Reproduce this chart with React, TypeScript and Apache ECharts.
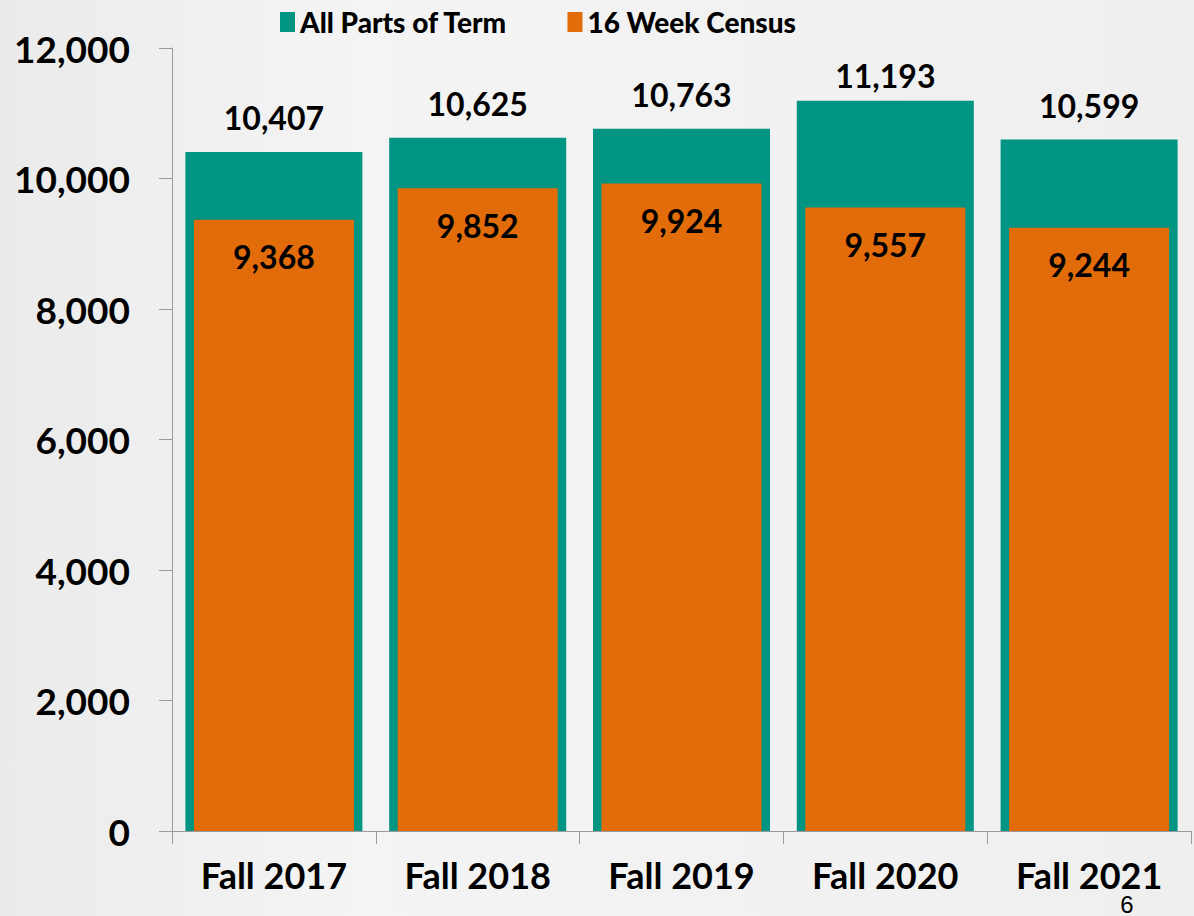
import React, { useEffect, useRef } from "react";
import * as echarts from "echarts";

const categories = ["Fall 2017", "Fall 2018", "Fall 2019", "Fall 2020", "Fall 2021"];
const allPartsOfTerm = [10407, 10625, 10763, 11193, 10599];
const sixteenWeekCensus = [9368, 9852, 9924, 9557, 9244];
const yTicks = { min: 0, max: 12000, interval: 2000 };

const TEAL = "#009483";
const ORANGE = "#E36C0A";
const FONT = "Lato";

const fmt = (v: number) => v.toLocaleString("en-US");

export default function App() {
  const ref = useRef<HTMLDivElement>(null);
  useEffect(() => {
    if (!ref.current) return;
    const chart = echarts.init(ref.current, undefined, { renderer: "svg" });
    chart.setOption({
      animation: false,
      backgroundColor: {
        type: "linear",
        x: 0, y: 0, x2: 1, y2: 0,
        colorStops: [
          { offset: 0, color: "#ebebeb" },
          { offset: 0.3, color: "#f4f4f4" },
          { offset: 1, color: "#efefef" },
        ],
      },
      textStyle: { fontFamily: FONT },
      legend: {
        top: 3,
        left: 275,
        itemWidth: 15,
        itemHeight: 20,
        itemGap: 60,
        icon: "rect",
        textStyle: { fontFamily: FONT, fontWeight: 900, fontSize: 28, color: "#000" },
        data: ["All Parts of Term", "16 Week Census"],
      },
      grid: { left: 172, right: 3, top: 48, bottom: 85, containLabel: false },
      xAxis: [
        {
          type: "category",
          data: categories,
          axisLine: { show: true, lineStyle: { color: "#9a9a9a", width: 1 } },
          axisTick: { show: true, length: 13, lineStyle: { color: "#9a9a9a" } },
          axisLabel: {
            fontFamily: FONT,
            fontWeight: "bold",
            fontSize: 36,
            lineHeight: 28,
            color: "#000",
            margin: 30,
          },
        },
        { type: "category", data: categories, show: false },
      ],
      yAxis: {
        type: "value",
        min: yTicks.min,
        max: yTicks.max,
        interval: yTicks.interval,
        splitLine: { show: false },
        axisLine: { show: true, lineStyle: { color: "#9a9a9a", width: 1 } },
        axisTick: { show: true, length: 13, lineStyle: { color: "#9a9a9a" } },
        axisLabel: {
          fontFamily: FONT,
          fontWeight: "bold",
          fontSize: 37,
          color: "#000",
          margin: 42,
          formatter: (v: number) => fmt(v),
        },
      },
      series: [
        {
          name: "All Parts of Term",
          type: "bar",
          xAxisIndex: 0,
          barWidth: 177,
          itemStyle: { color: TEAL },
          label: {
            show: true,
            position: "top",
            distance: 18,
            fontFamily: FONT,
            fontWeight: "bold",
            fontSize: 32,
            color: "#000",
            formatter: (p: any) => fmt(p.value),
          },
          data: allPartsOfTerm.map((v, i) =>
            i === 3 ? { value: v, label: { distance: 9 } } : v
          ),
        },
        {
          name: "16 Week Census",
          type: "bar",
          xAxisIndex: 1,
          barWidth: 160,
          z: 3,
          itemStyle: { color: ORANGE },
          label: {
            show: true,
            position: "insideTop",
            distance: 21,
            fontFamily: FONT,
            fontWeight: "bold",
            fontSize: 32,
            color: "#000",
            formatter: (p: any) => fmt(p.value),
          },
          data: sixteenWeekCensus,
        },
      ],
      graphic: [
        {
          type: "text",
          x: 1127,
          y: 904,
          z: 10,
          style: {
            text: "6",
            fontFamily: "Liberation Sans",
            fontSize: 24,
            fill: "#000",
            align: "center",
            verticalAlign: "middle",
          },
        },
      ],
    });
    return () => chart.dispose();
  }, []);
  return (
    <div
      ref={ref}
      style={{ position: "absolute", left: 0, top: 0, width: 1194, height: 916 }}
    />
  );
}
